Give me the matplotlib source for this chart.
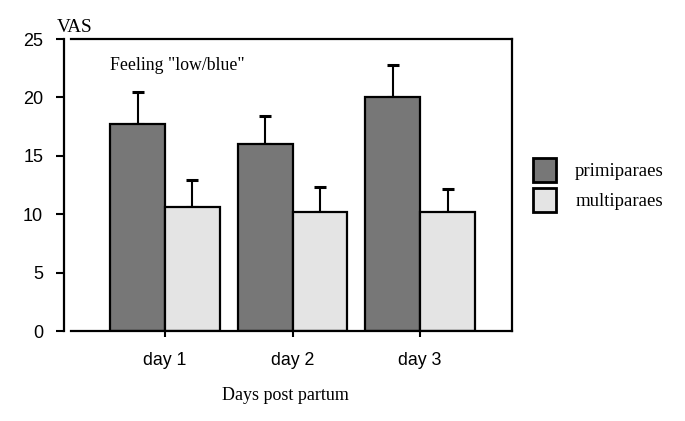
import matplotlib
matplotlib.use("Agg")
import matplotlib.pyplot as plt
import numpy as np
from matplotlib.patches import Patch

days = ["day 1", "day 2", "day 3"]
primi = [17.7, 16.0, 20.0]
primi_err = [2.8, 2.4, 2.8]
multi = [10.6, 10.2, 10.2]
multi_err = [2.3, 2.1, 2.0]
series_names = ["primiparaes", "multiparaes"]
yticks = [0, 5, 10, 15, 20, 25]

plt.rcParams["font.family"] = ["Liberation Sans", "DejaVu Sans"]

W, H = 685, 421
fig = plt.figure(figsize=(W / 100, H / 100), dpi=100)
ax = fig.add_axes([71 / W, 1 - 331 / H, (512 - 71) / W, (331 - 39) / H])

x = np.arange(len(days))
bw = 0.43
c1, c2 = "#777777", "#e4e4e4"
ax.bar(x - bw / 2, primi, bw, color=c1, edgecolor="black", linewidth=1.6, zorder=2)
ax.bar(x + bw / 2, multi, bw, color=c2, edgecolor="black", linewidth=1.6, zorder=2)
ax.errorbar(x - bw / 2, primi, yerr=[np.zeros(3), primi_err], fmt="none",
            ecolor="black", elinewidth=1.5, capsize=4, capthick=2.2, zorder=1)
ax.errorbar(x + bw / 2, multi, yerr=[np.zeros(3), multi_err], fmt="none",
            ecolor="black", elinewidth=1.5, capsize=4, capthick=2.2, zorder=1)

ax.set_xlim(-0.737, 2.72)
ax.set_ylim(0, 25)
ax.set_yticks(yticks)
ax.set_yticklabels([str(v) for v in yticks])
ax.set_xticks(x)
ax.set_xticklabels(days)
ax.tick_params(axis="y", length=6, width=1.5, pad=9, labelsize=13)
ax.tick_params(axis="x", length=4, width=1.5, pad=11, labelsize=12.8)
for s in ax.spines.values():
    s.set_linewidth(1.6)
ax.spines["left"].set_position(("outward", 5))

fig.text(57 / W, 1 - 28 / H, "VAS", fontfamily="Liberation Serif", fontsize=13.8, va="center", ha="left")
fig.text(110 / W, 1 - 66 / H, 'Feeling "low/blue"', fontfamily="Liberation Serif", fontsize=12.8,
         va="center", ha="left")
fig.text(285 / W, 1 - 395 / H, "Days post partum", fontfamily="Liberation Serif", fontsize=13,
         va="center", ha="center")

handles = [Patch(facecolor=c1, edgecolor="black", linewidth=2),
           Patch(facecolor=c2, edgecolor="black", linewidth=2)]
fig.legend(handles, series_names, loc="upper left", bbox_to_anchor=(533 / W, 1 - 158 / H),
           frameon=False, borderpad=0, borderaxespad=0, handlelength=1.25, handleheight=1.6,
           handletextpad=1.0, labelspacing=0.3,
           prop={"family": "Liberation Serif", "size": 13.5})

fig.savefig("out.png", dpi=100)
